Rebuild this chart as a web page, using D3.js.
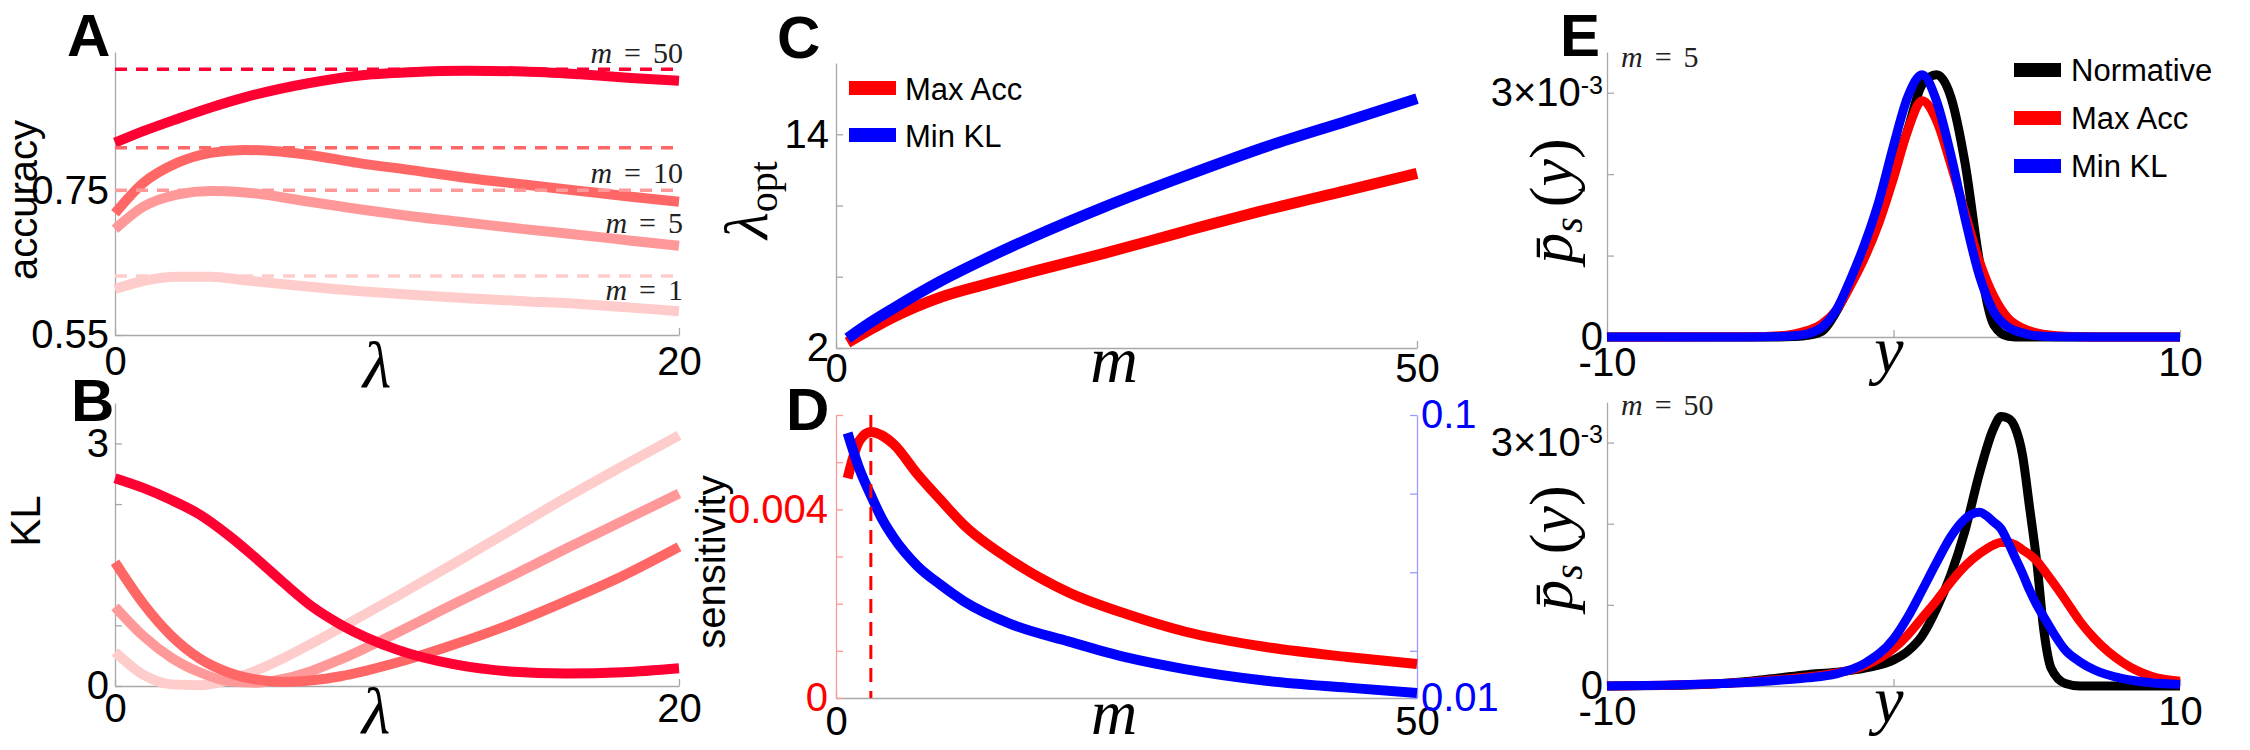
<!DOCTYPE html>
<html><head><meta charset="utf-8">
<script src="https://cdn.jsdelivr.net/npm/d3@7"></script>
<style>body{margin:0;background:#fff}</style>
</head><body>
<script>
// ---------------- DATA ----------------
const mLevels = [1, 5, 10, 50];
// Panel A : accuracy vs lambda
const lambdaA = [0, 1, 2.2, 3.4, 4.6, 6.9, 8.6, 10.5, 12.5, 14.5, 16.5, 18.3, 20];
const accM1  = [0.614,0.625,0.631,0.631,0.626,0.617,0.611,0.606,0.601,0.597,0.593,0.588,0.583];
const accM5  = [0.697,0.728,0.745,0.750,0.748,0.735,0.725,0.715,0.706,0.697,0.689,0.681,0.674];
const accM10 = [0.719,0.761,0.789,0.803,0.807,0.800,0.789,0.779,0.768,0.759,0.750,0.742,0.735];
const accM50 = [0.817,0.833,0.850,0.866,0.880,0.900,0.910,0.915,0.917,0.916,0.912,0.907,0.903];
const accOpt = [0.632, 0.751, 0.810, 0.919];
// Panel B : KL vs lambda
const lambdaB = [0, 1, 2, 3, 4, 5, 6, 7, 8, 10, 12, 14, 16, 18, 20];
const klM1  = [0.42,0.14,0.02,0.01,0.07,0.19,0.35,0.53,0.72,1.11,1.51,1.92,2.33,2.72,3.10];
const klM5  = [0.98,0.62,0.35,0.17,0.06,0.04,0.09,0.19,0.33,0.66,1.01,1.35,1.70,2.04,2.38];
const klM10 = [1.53,1.02,0.62,0.34,0.17,0.08,0.05,0.07,0.12,0.29,0.51,0.76,1.05,1.36,1.72];
const klM50 = [2.57,2.45,2.30,2.12,1.87,1.58,1.27,0.98,0.76,0.45,0.27,0.18,0.155,0.17,0.22];
// Panel C : lambda_opt vs m
const mC = [1, 3, 5, 9, 13, 17, 23, 30, 37, 44, 50];
const lamOptAcc = [2.3,3.05,3.75,4.85,5.6,6.3,7.3,8.55,9.75,10.85,11.8];
const lamOptKL  = [2.55,3.45,4.25,5.75,7.05,8.25,9.9,11.65,13.3,14.75,16.0];
// Panel D : sensitivity vs m
const mD = [1, 2, 3, 4, 5, 7, 9, 11, 15, 20, 25, 30, 37, 44, 50];
const sensAcc = [0.00466,0.00545,0.00564,0.00556,0.00537,0.00475,0.00420,0.00367,0.00293,0.00224,0.00178,0.00141,0.00108,0.00087,0.00072];
const sensKL  = [0.0943,0.0830,0.0745,0.0667,0.0608,0.0520,0.0460,0.0408,0.0336,0.0280,0.0229,0.0192,0.0155,0.0133,0.0116];
const mPeak = 3;
// Panel E : stationary densities (units of 1e-3)
const yTop = [-10,-5,-4,-3.5,-3,-2.5,-2,-1.5,-1,-0.5,0,0.5,1,1.5,2,2.5,3,3.5,4,4.5,5,6,7,10];
const normTop = [0,0,0,0.005,0.02,0.07,0.31,0.66,1.07,1.52,2.02,2.55,3.1,3.22,2.95,2.13,0.93,0.15,0.01,0,0,0,0,0];
const accTop  = [0,0.003,0.015,0.035,0.08,0.16,0.33,0.63,0.98,1.41,1.95,2.54,2.9,2.66,2.12,1.52,0.93,0.5,0.23,0.11,0.05,0.008,0,0];
const klTop   = [0,0,0.005,0.015,0.04,0.12,0.33,0.71,1.15,1.68,2.35,2.95,3.22,2.9,2.24,1.45,0.75,0.31,0.12,0.05,0.015,0.002,0,0];
const yBot = [-10,-8,-6,-5,-4,-3,-2,-1,0,0.5,1,1.5,2,2.5,3,3.5,3.75,4,4.25,4.5,4.75,5,5.25,5.5,6,6.5,7,8,9,10];
const normBot = [0,0.005,0.03,0.06,0.1,0.14,0.17,0.22,0.32,0.43,0.62,0.95,1.37,1.92,2.62,3.18,3.32,3.3,3.18,2.85,2.2,1.53,0.68,0.22,0.03,0,0,0,0,0];
const accBot  = [0,0.01,0.03,0.05,0.08,0.11,0.16,0.25,0.46,0.63,0.84,1.05,1.28,1.48,1.63,1.74,1.77,1.77,1.74,1.68,1.62,1.54,1.43,1.31,1.06,0.8,0.59,0.29,0.12,0.06];
const klBot   = [0,0.01,0.03,0.045,0.07,0.1,0.15,0.28,0.58,0.85,1.18,1.52,1.84,2.06,2.14,2.02,1.94,1.77,1.58,1.39,1.18,1.0,0.85,0.7,0.44,0.3,0.2,0.09,0.04,0.02];
const legendLabels = ["Normative", "Max Acc", "Min KL"];

// ---------------- STYLE ----------------
const SANS = "'Liberation Sans', Arial, Helvetica, sans-serif";
const SERIF = "'Liberation Serif', 'Times New Roman', 'DejaVu Serif', serif";
const AXC = "#a8a8a8";
const mColors = ["#ffcccc", "#ff9999", "#ff6666", "#ff0033"];
const RED = "#ff0000", BLUE = "#0000ff", BLACK = "#000000";

const svg = d3.select("body").append("svg").attr("width", 2250).attr("height", 750)
  .style("background", "#fff");

function styleAxis(g, lineColor, textColor) {
  g.select(".domain").attr("stroke", lineColor).attr("stroke-width", 1.3);
  g.selectAll(".tick line").attr("stroke", lineColor).attr("stroke-width", 1.3);
  g.selectAll(".tick text").attr("fill", textColor)
    .style("font-family", SANS).style("font-size", "40px");
}
function leftAxis(scale, x, vals, fmt, pad, lc, tc) {
  const g = svg.append("g").attr("transform", `translate(${x},0)`)
    .call(d3.axisLeft(scale).tickValues(vals).tickFormat(fmt).tickSize(-7).tickSizeOuter(0).tickPadding(pad));
  styleAxis(g, lc || AXC, tc || "#000");
  return g;
}
function rightAxis(scale, x, vals, fmt, pad, lc, tc) {
  const g = svg.append("g").attr("transform", `translate(${x},0)`)
    .call(d3.axisRight(scale).tickValues(vals).tickFormat(fmt).tickSize(-7).tickSizeOuter(0).tickPadding(pad));
  styleAxis(g, lc, tc);
  return g;
}
function bottomAxis(scale, y, vals, fmt, pad) {
  const g = svg.append("g").attr("transform", `translate(0,${y})`)
    .call(d3.axisBottom(scale).tickValues(vals).tickFormat(fmt).tickSize(-7).tickSizeOuter(0).tickPadding(pad));
  styleAxis(g, AXC, "#000");
  return g;
}
function drawLine(xs, ys, xS, yS, color, w, dash) {
  const line = d3.line().x((d, i) => xS(xs[i])).y(d => yS(d)).curve(d3.curveMonotoneX);
  const p = svg.append("path").datum(ys).attr("d", line).attr("fill", "none")
    .attr("stroke", color).attr("stroke-width", w).attr("stroke-linejoin", "round");
  if (dash) p.attr("stroke-dasharray", dash);
  return p;
}
function panelLetter(t, x, y) {
  svg.append("text").attr("x", x).attr("y", y).text(t)
    .style("font-family", SANS).style("font-weight", "bold").style("font-size", "60px");
}
function rotLabel(t, x, y, size) {
  svg.append("text").attr("transform", `translate(${x},${y}) rotate(-90)`).attr("text-anchor", "middle")
    .style("font-family", SANS).style("font-size", (size || 42) + "px").text(t);
}
function mathX(t, x, y, size) {
  svg.append("text").attr("x", x).attr("y", y).attr("text-anchor", "middle")
    .style("font-family", SERIF).style("font-style", "italic").style("font-size", (size || 66) + "px").text(t);
}
function mLabel(x, y, val, anchor) {
  const t = svg.append("text").attr("x", x).attr("y", y).attr("text-anchor", anchor)
    .style("font-family", SERIF).style("font-size", "30px").attr("fill", "#222");
  t.append("tspan").style("font-style", "italic").text("m");
  t.append("tspan").attr("dx", 12).text("=");
  t.append("tspan").attr("dx", 12).text(val);
}
const fmtOnly = list => d => (list.includes(d) ? String(d) : "");

// ---------------- PANEL A ----------------
const xA = d3.scaleLinear().domain([0, 20]).range([115, 679]);
const yA = d3.scaleLinear().domain([0.55, 0.943]).range([335, 52]);
leftAxis(yA, 115, [0.55, 0.75], d3.format(".2f"), 6);
bottomAxis(xA, 335, [0, 20], d3.format("d"), 12);
[accM1, accM5, accM10, accM50].forEach((s, i) => drawLine(lambdaA, s, xA, yA, mColors[i], 10));
accOpt.forEach((v, i) => {
  svg.append("line").attr("x1", xA(0)).attr("x2", xA(20)).attr("y1", yA(v)).attr("y2", yA(v))
    .attr("stroke", mColors[i]).attr("stroke-width", 3.5).attr("stroke-dasharray", "12,9");
});
mLabel(683, 300, mLevels[0], "end");
mLabel(683, 233, mLevels[1], "end");
mLabel(683, 183, mLevels[2], "end");
mLabel(683, 63, mLevels[3], "end");
panelLetter("A", 67, 56);
rotLabel("accuracy", 37, 200, 40);
mathX("λ", 377, 387);

// ---------------- PANEL B ----------------
const xB = d3.scaleLinear().domain([0, 20]).range([115, 679]);
const yB = d3.scaleLinear().domain([0, 3.5]).range([686, 403]);
leftAxis(yB, 115, [0, 0.75, 1.5, 2.25, 3], fmtOnly([0, 3]), 6);
bottomAxis(xB, 686, [0, 20], d3.format("d"), 8);
[klM1, klM5, klM10, klM50].forEach((s, i) => drawLine(lambdaB, s, xB, yB, mColors[i], 10));
panelLetter("B", 71, 421);
rotLabel("KL", 40, 521, 42);
mathX("λ", 376, 733);

// ---------------- PANEL C ----------------
const xC = d3.scaleLinear().domain([0, 50]).range([836, 1417]);
const yC = d3.scaleLinear().domain([2, 18]).range([348, 63]);
leftAxis(yC, 836, [2, 6, 10, 14], fmtOnly([2, 14]), 7);
bottomAxis(xC, 348, [0, 50], d3.format("d"), 6);
drawLine(mC, lamOptAcc, xC, yC, RED, 11);
drawLine(mC, lamOptKL, xC, yC, BLUE, 11);
panelLetter("C", 777, 58);
{
  const t = svg.append("text").attr("transform", "translate(767,200) rotate(-90)").attr("text-anchor", "middle")
    .style("font-family", SERIF);
  t.append("tspan").style("font-style", "italic").style("font-size", "62px").text("λ");
  t.append("tspan").style("font-size", "40px").attr("dy", 10).text("opt");
}
mathX("m", 1114, 382);
// legend C
[[legendLabels[1], RED], [legendLabels[2], BLUE]].forEach((d, i) => {
  const cy = 88 + i * 47;
  svg.append("rect").attr("x", 849).attr("y", cy - 7).attr("width", 47).attr("height", 14).attr("fill", d[1]);
  svg.append("text").attr("x", 905).attr("y", cy + 12).text(d[0])
    .style("font-family", SANS).style("font-size", "31px");
});

// ---------------- PANEL D ----------------
const xD = d3.scaleLinear().domain([0, 50]).range([836, 1417]);
const yDL = d3.scaleLinear().domain([0, 0.006]).range([698, 415]);
const yDR = d3.scaleLinear().domain([0.01, 0.1]).range([698, 415]);
bottomAxis(xD, 698, [0, 50], d3.format("d"), 9);
leftAxis(yDL, 836, [0, 0.001, 0.002, 0.003, 0.004, 0.005, 0.006],
  d => (d === 0 ? "0" : d === 0.004 ? "0.004" : ""), 8, "#ff9a9a", RED);
rightAxis(yDR, 1417, [0.01, 0.025, 0.05, 0.075, 0.1],
  d => (d === 0.01 ? "0.01" : d === 0.1 ? "0.1" : ""), 4, "#9a9aff", BLUE);
drawLine(mD, sensAcc, xD, yDL, RED, 10);
drawLine(mD, sensKL, xD, yDR, BLUE, 10);
svg.append("line").attr("x1", xD(mPeak)).attr("x2", xD(mPeak)).attr("y1", yDL(0.006)).attr("y2", yDL(0))
  .attr("stroke", RED).attr("stroke-width", 3).attr("stroke-dasharray", "14,9");
panelLetter("D", 786, 430);
rotLabel("sensitivity", 725, 562, 40);
mathX("m", 1114, 734, 64);

// ---------------- PANEL E ----------------
const xE = d3.scaleLinear().domain([-10, 10]).range([1607, 2180]);
const yE1 = d3.scaleLinear().domain([0, 3.5]).range([337, 52]);
const yE2 = d3.scaleLinear().domain([0, 3.5]).range([686, 402]);
function eAxes(yS, yBase) {
  const g = leftAxis(yS, 1607, [0, 1, 2, 3], d => (d === 0 ? "0" : ""), 4);
  g.selectAll(".tick text").filter(d => d === 3).each(function () {
    const t = d3.select(this);
    t.append("tspan").text("3\u00d710");
    t.append("tspan").attr("dy", "-0.5em").style("font-size", "25px").text("-3");
  });
  bottomAxis(xE, yBase, [-10, 0, 10], d => (d === 0 ? "" : String(d)), 11);
}
eAxes(yE1, 337);
eAxes(yE2, 686);
drawLine(yTop, normTop, xE, yE1, BLACK, 9);
drawLine(yTop, accTop, xE, yE1, RED, 9);
drawLine(yTop, klTop, xE, yE1, BLUE, 9);
drawLine(yBot, normBot, xE, yE2, BLACK, 9);
drawLine(yBot, accBot, xE, yE2, RED, 9);
drawLine(yBot, klBot, xE, yE2, BLUE, 9);
panelLetter("E", 1560, 56);
function psLabel(cx, cy) {
  const t = svg.append("text").attr("transform", `translate(${cx},${cy}) rotate(-90)`).attr("text-anchor", "middle")
    .style("font-family", SERIF).style("font-size", "62px");
  t.append("tspan").style("font-style", "italic").text("p\u0304");
  t.append("tspan").style("font-style", "italic").style("font-size", "40px").attr("dy", 10).text("s");
  t.append("tspan").attr("dy", -10).attr("dx", 10).text("(");
  t.append("tspan").style("font-style", "italic").text("y");
  t.append("tspan").text(")");
}
psLabel(1572, 201);
psLabel(1572, 548);
mathX("y", 1889, 372);
mathX("y", 1889, 722);
mLabel(1621, 67, mLevels[1], "start");
mLabel(1621, 415, mLevels[3], "start");
[[legendLabels[0], BLACK], [legendLabels[1], RED], [legendLabels[2], BLUE]].forEach((d, i) => {
  const cy = 70 + i * 48;
  svg.append("rect").attr("x", 2014).attr("y", cy - 7).attr("width", 47).attr("height", 14).attr("fill", d[1]);
  svg.append("text").attr("x", 2071).attr("y", cy + 11).text(d[0])
    .style("font-family", SANS).style("font-size", "31px");
});
</script>
</body></html>
